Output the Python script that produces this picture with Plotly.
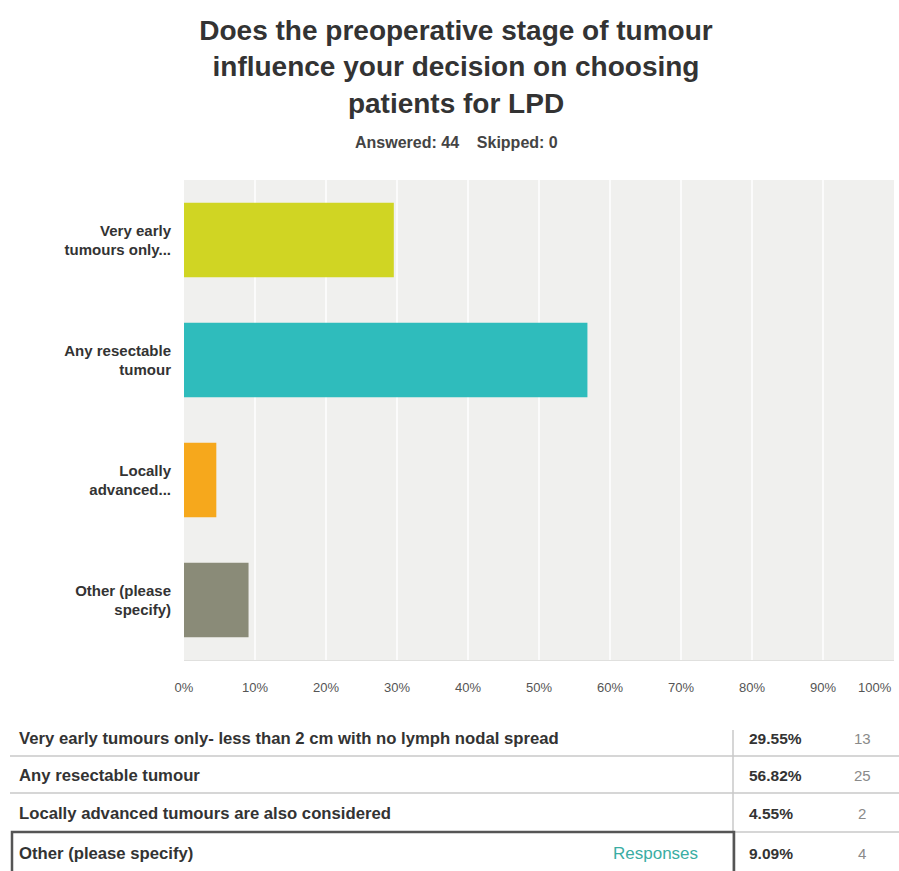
import plotly.graph_objects as go

# ---- data ----
short_labels = ["Very early<br>tumours only...", "Any resectable<br>tumour",
                "Locally<br>advanced...", "Other (please<br>specify)"]
full_labels = ["Very early tumours only- less than 2 cm with no lymph nodal spread",
               "Any resectable tumour",
               "Locally advanced tumours are also considered",
               "Other (please specify)"]
percents = [29.55, 56.82, 4.55, 9.09]
counts = [13, 25, 2, 4]
bar_colors = ["#d0d523", "#2fbcbc", "#f6a81c", "#8a8b78"]
tick_vals = [0, 10, 20, 30, 40, 50, 60, 70, 80, 90, 100]
tick_text = [f"{v}%" for v in tick_vals]
answered = 44
skipped = 0

W, H = 899, 871
L, R, T, B = 184, 5, 180, 211
PW, PH = W - L - R, H - T - B


def px(xpix):
    return (xpix - L) / PW


def py(ypix):
    return (H - B - ypix) / PH


FONT = "Liberation Sans, Arial, Helvetica, sans-serif"

fig = go.Figure()
fig.add_trace(go.Bar(
    x=percents, y=short_labels, orientation="h",
    marker=dict(color=bar_colors, line=dict(width=0)),
    width=0.62, hoverinfo="x+y", showlegend=False,
))

annotations = []
# subtitle
annotations.append(dict(
    text=f"<b>Answered: {answered}&nbsp;&nbsp;&nbsp; Skipped: {skipped}</b>",
    xref="paper", yref="paper", x=px(456), y=py(142), showarrow=False,
    xanchor="center", yanchor="middle",
    font=dict(family=FONT, size=16, color="#444")))

# 100% tick label (right aligned so it stays inside the page)
annotations.append(dict(
    text=tick_text[-1], xref="x", yref="paper", x=tick_vals[-1], y=py(687),
    showarrow=False, xanchor="right", yanchor="middle",
    font=dict(family=FONT, size=13, color="#555")))

# table rows
row_y = [738, 775, 813, 853]
for i in range(4):
    annotations.append(dict(
        text=f"<b>{full_labels[i]}</b>", xref="paper", yref="paper", x=px(17), y=py(row_y[i]),
        showarrow=False, xanchor="left", yanchor="middle",
        font=dict(family=FONT, size=16.7, color="#333")))
    annotations.append(dict(
        text=f"<b>{percents[i]:.2f}%</b>", xref="paper", yref="paper", x=px(747), y=py(row_y[i]),
        showarrow=False, xanchor="left", yanchor="middle",
        font=dict(family=FONT, size=15.5, color="#333")))
    annotations.append(dict(
        text=str(counts[i]), xref="paper", yref="paper", x=px(862), y=py(row_y[i]),
        showarrow=False, xanchor="center", yanchor="middle",
        font=dict(family=FONT, size=15, color="#8a8a8a")))
annotations.append(dict(
    text="Responses", xref="paper", yref="paper", x=px(700), y=py(row_y[3]),
    showarrow=False, xanchor="right", yanchor="middle",
    font=dict(family=FONT, size=17, color="#3aada3")))

shapes = []
for yy in [756, 793]:
    shapes.append(dict(type="line", xref="paper", yref="paper",
                       x0=px(10), x1=px(899), y0=py(yy), y1=py(yy),
                       line=dict(color="#c8c8c8", width=1.5)))
shapes.append(dict(type="line", xref="paper", yref="paper",
                   x0=px(735), x1=px(899), y0=py(832), y1=py(832),
                   line=dict(color="#c8c8c8", width=1.5)))
shapes.append(dict(type="line", xref="paper", yref="paper",
                   x0=px(733), x1=px(733), y0=py(730), y1=py(871),
                   line=dict(color="#c8c8c8", width=1.5)))
shapes.append(dict(type="rect", xref="paper", yref="paper",
                   x0=px(12), x1=px(734), y0=py(832), y1=py(880),
                   line=dict(color="#555555", width=2.5)))

fig.update_layout(
    width=W, height=H,
    margin=dict(l=L, r=R, t=T, b=B, autoexpand=False),
    paper_bgcolor="white", plot_bgcolor="#f0f0ee",
    title=dict(
        text="<b>Does the preoperative stage of tumour<br>influence your decision on choosing<br>patients for LPD</b>",
        x=456 / W, xref="container", xanchor="center",
        y=1 - 40 / H, yref="container", yanchor="top",
        font=dict(family=FONT, size=28, color="#333"),
    ),
    xaxis=dict(range=[0, 100], tickvals=tick_vals[:-1], ticktext=tick_text[:-1],
               showgrid=True, gridcolor="#fbfbfb", gridwidth=2, zeroline=False,
               showline=True, linecolor="#e0e0de", linewidth=1,
               ticks="", ticklabelstandoff=15, automargin=False,
               tickfont=dict(family=FONT, size=13, color="#555"),
               fixedrange=True),
    yaxis=dict(autorange="reversed", showgrid=False, zeroline=False, ticks="",
               ticklabelstandoff=12, automargin=False,
               tickfont=dict(family=FONT, size=15, color="#333"),
               fixedrange=True),
    annotations=annotations,
    shapes=shapes,
)
fig.update_yaxes(ticktext=[f"<b>{s}</b>" for s in short_labels], tickvals=short_labels)

fig.write_html("out.html", config={"displayModeBar": False},
               post_script="document.body.style.margin='0';")
